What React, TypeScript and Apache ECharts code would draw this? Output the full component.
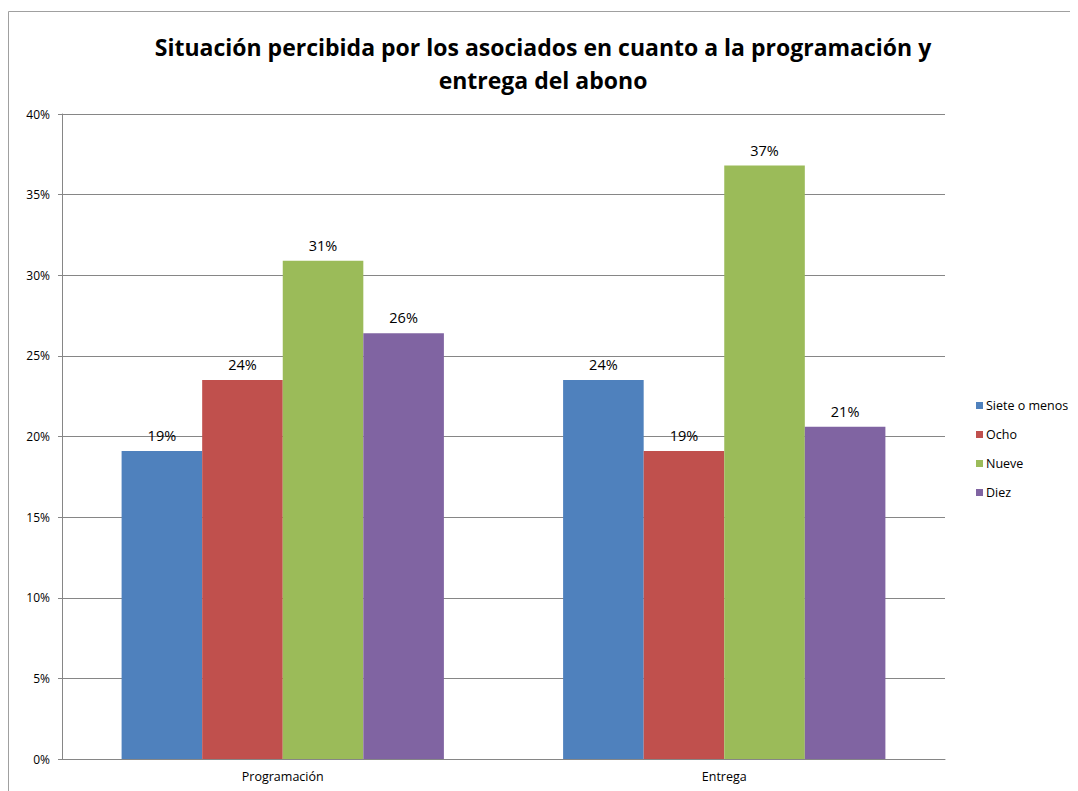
import React, { useEffect, useRef } from "react";
import * as echarts from "echarts";

const categories = ["Programación", "Entrega"];
const seriesNames = ["Siete o menos", "Ocho", "Nueve", "Diez"];
const sieteOMenos = [19.1, 23.5];
const ocho = [23.5, 19.1];
const nueve = [30.9, 36.8];
const diez = [26.4, 20.6];
const colors = ["#4F81BD", "#C0504D", "#9BBB59", "#8064A2"];
const titleText = "Situación percibida por los asociados en cuanto a la programación y\nentrega del abono";

export default function App() {
  const ref = useRef<HTMLDivElement>(null);
  useEffect(() => {
    if (!ref.current) return;
    const chart = echarts.init(ref.current, undefined, { renderer: "svg" });
    const values = [sieteOMenos, ocho, nueve, diez];
    chart.setOption({
      animation: false,
      textStyle: { fontFamily: "Open Sans" },
      title: {
        text: titleText,
        left: "center",
        top: 17,
        textStyle: { fontFamily: "Open Sans", fontSize: 23, fontWeight: "bold", color: "#000", lineHeight: 33 },
      },
      graphic: [
        {
          type: "rect",
          shape: { x: 0.5, y: 3.5, width: 1200, height: 1000 },
          style: { fill: "none", stroke: "#A0A0A0", lineWidth: 1 },
          silent: true,
        },
      ],
      legend: {
        orient: "vertical",
        left: 963,
        top: 385,
        itemWidth: 7,
        itemHeight: 7,
        itemGap: 14,
        icon: "rect",
        textStyle: { fontSize: 12.5, color: "#000", lineHeight: 15, padding: [0, 0, 0, -2] },
        data: seriesNames,
      },
      grid: { left: 54, right: 133, top: 106, bottom: 32, containLabel: false },
      xAxis: {
        type: "category",
        data: categories,
        axisLine: { show: true, lineStyle: { color: "#868686" } },
        axisTick: { show: false },
        axisLabel: { fontSize: 12.5, color: "#000", margin: 11 },
      },
      yAxis: {
        type: "value",
        min: 0,
        max: 40,
        interval: 5,
        axisLine: { show: true, lineStyle: { color: "#868686" } },
        axisTick: { show: true, length: 4, inside: false, lineStyle: { color: "#868686" } },
        splitLine: { lineStyle: { color: "#868686" } },
        axisLabel: { fontSize: 12, color: "#000", margin: 12, formatter: (v: number) => v + "%" },
      },
      series: seriesNames.map((name, i) => ({
        name,
        type: "bar",
        data: values[i],
        barGap: "0%",
        barCategoryGap: "27%",
        itemStyle: { color: colors[i] },
        label: {
          show: true,
          position: "top",
          distance: 8,
          fontSize: 14.5,
          color: "#000",
          formatter: (p: any) => Math.round(p.value) + "%",
        },
      })),
    });
    return () => chart.dispose();
  }, []);
  return <div ref={ref} style={{ width: 1070, height: 783 }} />;
}
